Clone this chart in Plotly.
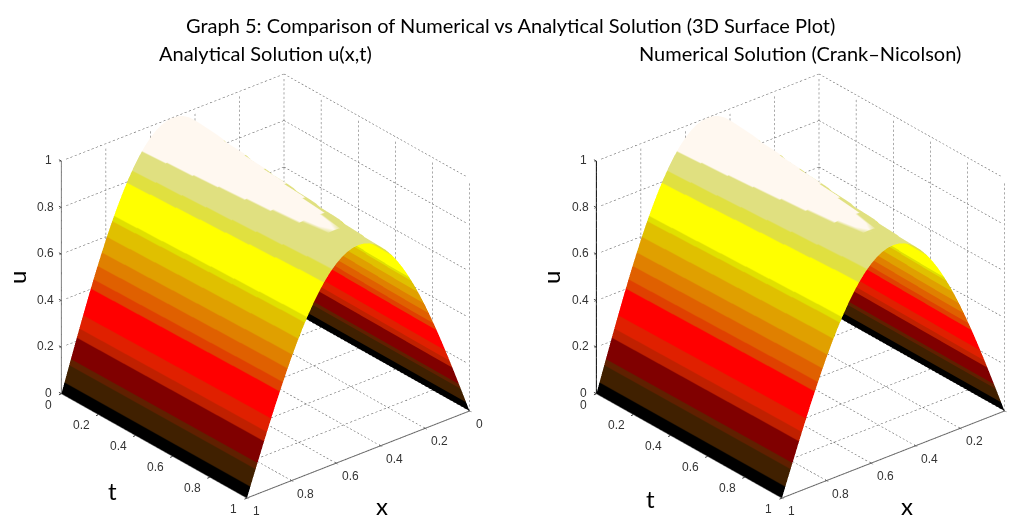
import plotly.graph_objects as go

x_vals = [0, .025, .05, .075, .1, .125, .15, .175, .2, .225, .25, .275, .3, .325, .35, .375, .4, .425, .45, .475, .5,
          .525, .55, .575, .6, .625, .65, .675, .7, .725, .75, .775, .8, .825, .85, .875, .9, .925, .95, .975, 1]
u_profile = [0, .0785, .1564, .2334, .3090, .3827, .4540, .5225, .5878, .6494, .7071, .7604, .8090, .8526, .8910, .9239, .9511, .9724, .9877, .9969, 1,
             .9969, .9877, .9724, .9511, .9239, .8910, .8526, .8090, .7604, .7071, .6494, .5878, .5225, .4540, .3827, .3090, .2334, .1564, .0785, 0]
t_vals = [0, .12, .1201, .25, .2501, .37, .3701, .5, .5001, .62, .6201, .75, .7501, .87, .8701, 1]
amp_analytical = [1, .99, .982, .975, .968, .96, .954, .947, .94, .934, .927, .921, .914, .908, .904, .90]
amp_numerical = [1, .99, .983, .975, .969, .96, .955, .947, .941, .934, .928, .921, .915, .908, .905, .90]

band_edges = [0, .045, .11, .135, .215, .25, .30, .405, .44, .49, .54, .60, .66, .68, .80, .845, .91, 1]
band_colors = ["#000000", "#402000", "#602000", "#800000", "#c02000", "#e02000", "#ff0000", "#e04000", "#e06000",
               "#e08000", "#e0a000", "#e0c000", "#e0e000", "#ffff00", "#e0e040", "#e0e080", "#fff8f0"]
tick_vals = [0, .2, .4, .6, .8, 1]
tick_text = ["0", "0.2", "0.4", "0.6", "0.8", "1"]

main_title = "Graph 5: Comparison of Numerical vs Analytical Solution (3D Surface Plot)"
left_title = "Analytical Solution u(x,t)"
right_title = "Numerical Solution (Crank\u2013Nicolson)"
NARROW = "Lato"
DOT = .0095

colorscale = []
for i, c in enumerate(band_colors):
    colorscale.append([band_edges[i], c])
    colorscale.append([band_edges[i + 1], c])


def dotted(p, q, xs, ys, zs):
    n = int(1 / (2 * DOT))
    for k in range(n):
        a, b = 2 * k * DOT, (2 * k + 1) * DOT
        xs += [p[0] + (q[0] - p[0]) * a, p[0] + (q[0] - p[0]) * b, None]
        ys += [p[1] + (q[1] - p[1]) * a, p[1] + (q[1] - p[1]) * b, None]
        zs += [p[2] + (q[2] - p[2]) * a, p[2] + (q[2] - p[2]) * b, None]


def grid_traces(scene):
    xs, ys, zs = [], [], []
    for v in tick_vals:
        dotted((0, 0, v), (0, 1, v), xs, ys, zs)
        dotted((0, v, 0), (0, v, 1), xs, ys, zs)
        dotted((0, 0, v), (1, 0, v), xs, ys, zs)
        dotted((v, 0, 0), (v, 0, 1), xs, ys, zs)
        dotted((0, v, 0), (1, v, 0), xs, ys, zs)
        dotted((v, 0, 0), (v, 1, 0), xs, ys, zs)
    return [go.Scatter3d(x=xs, y=ys, z=zs, mode="lines", line=dict(color="#555555", width=1),
                         hoverinfo="skip", showlegend=False, scene=scene)]


def axis_traces(scene, zcolor):
    return [go.Scatter3d(x=[1, 1], y=[0, 0], z=[0, 1], mode="lines", line=dict(color=zcolor, width=2),
                         hoverinfo="skip", showlegend=False, scene=scene),
            go.Scatter3d(x=[1, 1, 0], y=[0, 1, 1], z=[0, 0, 0], mode="lines", line=dict(color="#707070", width=2),
                         hoverinfo="skip", showlegend=False, scene=scene)]


def surface(amp, scene):
    z = [[a * p for p in u_profile] for a in amp]
    return go.Surface(x=x_vals, y=t_vals, z=z, surfacecolor=z, colorscale=colorscale, cmin=0, cmax=1,
                      showscale=False, lighting=dict(ambient=1, diffuse=0, specular=0, fresnel=0, roughness=1),
                      hoverinfo="skip", scene=scene)


fig = go.Figure()
for t in grid_traces("scene") + axis_traces("scene", "#808080"):
    fig.add_trace(t)
fig.add_trace(surface(amp_analytical, "scene"))
for t in grid_traces("scene2") + axis_traces("scene2", "#000000"):
    fig.add_trace(t)
fig.add_trace(surface(amp_numerical, "scene2"))


def axis():
    return dict(range=[0, 1], tickmode="array", tickvals=tick_vals, showticklabels=False, showgrid=False, zeroline=False,
                showline=False, showbackground=False, title=dict(text=""), ticks="outside", ticklen=3, tickcolor="#555555",
                showspikes=False)


def tick_note(text, x, y, z, dx, dy):
    return dict(text=text, x=x, y=y, z=z, showarrow=False, xshift=dx, yshift=-dy, xanchor="center", yanchor="middle",
                font=dict(family="Liberation Sans", size=12, color="#333333"))


def tick_mark(x, y, z, ax, ay):
    return dict(text=" ", x=x, y=y, z=z, showarrow=True, arrowhead=0, arrowwidth=1, arrowcolor="#444444", ax=ax, ay=ay,
                standoff=0, startstandoff=0, font=dict(size=1))


def tick_notes(show_last_x_zero):
    notes = []
    for v, s in zip(tick_vals, tick_text):
        notes.append(tick_note(s, 1, 0, v, -16 if len(s) > 1 else -13, -1))
        notes.append(tick_note(s, 1, v, 0, -17 if len(s) > 1 else -13, 11))
        notes.append(tick_mark(1, 0, v, -4, -2))
        notes.append(tick_mark(1, v, 0, -4, 2))
        if v > 0 or show_last_x_zero:
            notes.append(tick_note(s, v, 1, 0, 14 if len(s) > 1 else 10, 13))
        notes.append(tick_mark(v, 1, 0, -3, -2))
    return notes


camera = dict(eye=dict(x=.702, y=.842, z=.582), center=dict(x=0, y=0, z=0), up=dict(x=0, y=0, z=1),
              projection=dict(type="orthographic"))


def scene(xd, show_zero):
    return dict(domain=dict(x=xd, y=[0, 460 / 516]), xaxis=axis(), yaxis=axis(), zaxis=axis(), aspectmode="manual",
                aspectratio=dict(x=1.26, y=1.26, z=1.145), camera=camera, bgcolor="white", annotations=tick_notes(show_zero))


def label(text, x, y, size, angle=0, family=NARROW):
    return dict(text=text, x=x / 1009, y=1 - y / 516, xref="paper", yref="paper", showarrow=False, xanchor="center", yanchor="middle",
                textangle=angle, font=dict(family=family, size=size, color="#000000"))


fig.update_layout(width=1009, height=516, margin=dict(l=0, r=0, t=0, b=0), paper_bgcolor="white", showlegend=False,
                  scene=scene([0, 531 / 1009], True), scene2=scene([592 / 1009, 1], False),
                  annotations=[label(main_title, 511, 25, 20), label(left_title, 265, 53, 20), label(right_title, 800, 53, 20),
                               label("u", 16, 278, 24, -90), label("t", 112, 490, 24), label("x", 382, 505, 24),
                               label("u", 550, 278, 24, -90), label("t", 650, 498, 24), label("x", 907, 505, 24)])
fig.write_html("out.html", post_script="document.body.style.margin='0';", config={"displayModeBar": False})
